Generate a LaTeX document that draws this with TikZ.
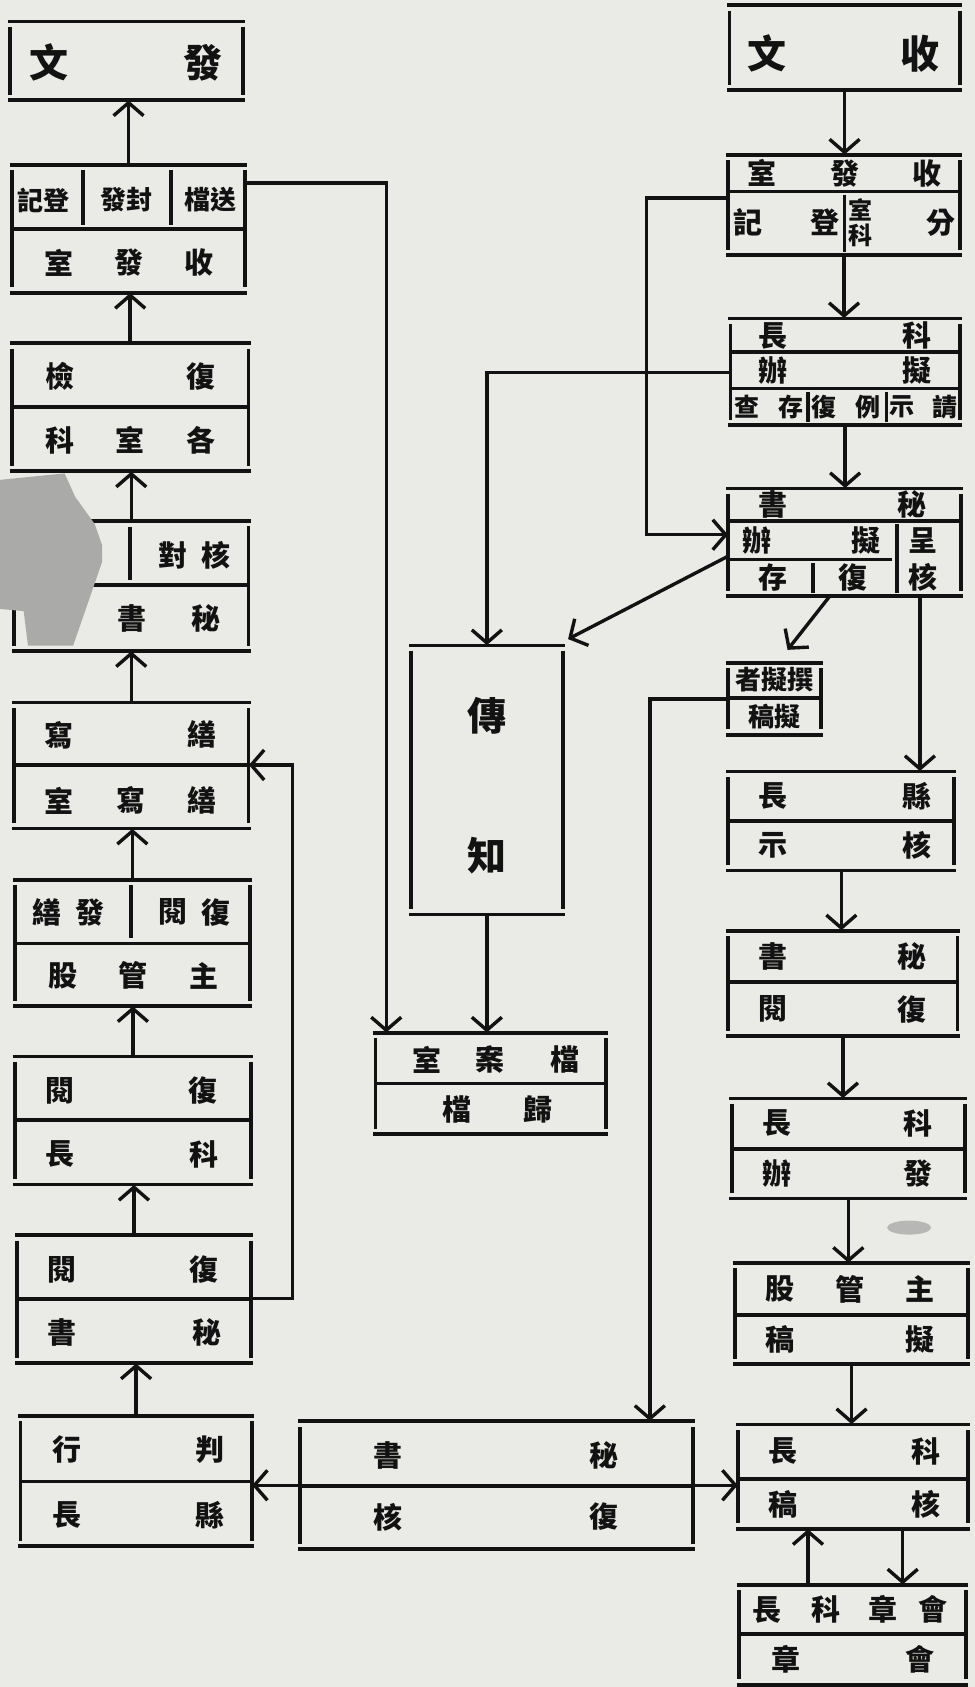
\documentclass[tikz,border=0pt]{standalone}
\usepackage{fontspec}
\newfontfamily\cjk{Noto Sans CJK TC}
\usetikzlibrary{arrows.meta,fit}
\definecolor{paper}{RGB}{234,234,231}
\definecolor{ink}{RGB}{18,18,18}
\definecolor{blobc}{RGB}{170,170,168}
\tikzset{
 ln/.style={draw=ink, line width=1.9pt},
 arr/.style={draw=ink, line width=1.7pt, -{Straight Barb[length=6.5pt,width=15pt]}},
 bx/.style={inner sep=0pt, draw=none},
 txt/.style={inner sep=0pt, text=ink, font=\cjk\bfseries\fontsize{14.5}{14.5}\selectfont},
 pairtxt/.style={txt, font=\cjk\bfseries\fontsize{13}{13}\selectfont},
 rowtxt/.style={txt, font=\cjk\bfseries\fontsize{12.5}{12.5}\selectfont},
 smalltxt/.style={txt, font=\cjk\bfseries\fontsize{12}{12.5}\selectfont, align=center},
 bigtxt/.style={txt, font=\cjk\bfseries\fontsize{19.5}{19.5}\selectfont},
}
\newcommand\mybox[5]{%
 \node[bx, fit={(#2,#3) (#4,#5)}] (#1) {};
 \draw[ln] (#2-2,#3) -- (#4+2,#3);
 \draw[ln] (#2-2,#5) -- (#4+2,#5);
 \draw[ln] (#2,#3+5) -- (#2,#5-5);
 \draw[ln] (#4,#3+5) -- (#4,#5-5);}
\newcommand\tx[4][txt]{\node[#1] (#2) at (#3) {#4};}
\begin{document}
\begin{tikzpicture}[x=0.5381pt, y=-0.5381pt]
\fill[paper] (0,0) rectangle (906,1568);
\useasboundingbox (0,0) rectangle (906,1568);
% ---------- left column ----------
\mybox{fw}{9}{20}{226}{93}
\tx[bigtxt]{fwa}{46,58}{文}\tx[bigtxt]{fwb}{189,58}{發}
\mybox{lsf}{11}{153}{228}{272}
\draw[ln] (11,213) -- (228,213);
\draw[ln] (77,158) -- (77,209); \draw[ln] (159,158) -- (159,209);
\tx[pairtxt]{lsfa}{40,186}{記登}\tx[pairtxt]{lsfb}{118,186}{發封}\tx[pairtxt]{lsfc}{196,186}{檔送}
\tx{lsfd}{55,244}{室}\tx{lsfe}{120,244}{發}\tx{lsff}{185,244}{收}
\mybox{fh}{11}{319}{231}{438}
\draw[ln] (11,378) -- (231,378);
\tx{fha}{56,350}{檢}\tx{fhb}{187,350}{復}
\tx{fhc}{56,409}{科}\tx{fhd}{121,409}{室}\tx{fhe}{187,409}{各}
\mybox{lms}{13}{484}{231}{605}
\draw[ln] (13,544) -- (231,544);
\draw[ln] (121,490) -- (121,539);
\tx{lmsa}{161,516}{對}\tx{lmsb}{201,516}{核}
\tx{lmsc}{123,575}{書}\tx{lmsd}{191,575}{秘}
\mybox{sx}{13}{653}{231}{770}
\draw[ln] (13,711) -- (231,711);
\tx{sxa}{55,683}{寫}\tx{sxb}{188,683}{繕}
\tx{sxc}{55,744}{室}\tx{sxd}{122,744}{寫}\tx{sxe}{188,744}{繕}
\mybox{zg}{14}{818}{232}{935}
\draw[ln] (14,877) -- (232,877);
\draw[ln] (122,823) -- (122,872);
\tx{zga}{44,848}{繕}\tx{zgb}{84,848}{發}\tx{zgc}{161,848}{閱}\tx{zgd}{201,848}{復}
\tx{zge}{59,907}{股}\tx{zgf}{124,907}{管}\tx{zgg}{190,907}{主}
\mybox{kf}{14}{982}{233}{1101}
\draw[ln] (14,1041) -- (233,1041);
\tx{kfa}{56,1014}{閱}\tx{kfb}{189,1014}{復}
\tx{kfc}{56,1073}{長}\tx{kfd}{190,1073}{科}
\mybox{ml}{16}{1148}{233}{1267}
\draw[ln] (16,1207) -- (233,1207);
\tx{mla}{58,1180}{閱}\tx{mlb}{190,1180}{復}
\tx{mlc}{58,1238}{書}\tx{mld}{192,1238}{秘}
\mybox{xp}{19}{1316}{234}{1437}
\draw[ln] (19,1377) -- (234,1377);
\tx{xpa}{62,1347}{行}\tx{xpb}{195,1347}{判}
\tx{xpc}{62,1408}{長}\tx{xpd}{195,1408}{縣}
% ---------- middle ----------
\mybox{cz}{382}{600}{523}{850}
\tx[bigtxt]{cza}{453,665}{傳}\tx[bigtxt]{czb}{453,795}{知}
\mybox{dang}{349}{960}{563}{1054}
\draw[ln] (349,1007) -- (563,1007);
\tx{danga}{397,985}{室}\tx{dangb}{455,985}{案}\tx{dangc}{525,985}{檔}
\tx{dangd}{425,1031}{檔}\tx{dange}{500,1031}{歸}
\mybox{mfh}{279}{1321}{644}{1440}
\draw[ln] (279,1381) -- (644,1381);
\tx{mfha}{361,1353}{書}\tx{mfhb}{561,1353}{秘}
\tx{mfhc}{361,1410}{核}\tx{mfhd}{561,1410}{復}
% ---------- right column ----------
\mybox{sw}{678}{5}{892}{84}
\tx[bigtxt]{swa}{713,50}{文}\tx[bigtxt]{swb}{855,50}{收}
\mybox{rsf}{677}{144}{892}{237}
\draw[ln] (677,178) -- (892,178);
\draw[ln] (785,181) -- (785,234);
\tx{rsfa}{708,161}{室}\tx{rsfb}{785,161}{發}\tx{rsfc}{862,161}{收}
\tx{rsfd}{695,207}{記}\tx{rsfe}{767,207}{登}\tx[smalltxt]{rsff}{800,207}{室\\科}\tx{rsfg}{875,207}{分}
\mybox{kn}{679}{296}{892}{395}
\draw[ln] (679,327) -- (892,327);
\draw[ln] (679,361) -- (892,361);
\draw[ln] (751,364) -- (751,392); \draw[ln] (824,364) -- (824,392);
\tx{kna}{718,312}{長}\tx{knb}{852,312}{科}
\tx{knc}{718,344}{辦}\tx{knd}{852,344}{擬}
\tx[rowtxt]{kne}{694,378}{查}\tx[rowtxt]{knf}{735,378}{存}\tx[rowtxt]{kng}{766,378}{復}
\tx[rowtxt]{knh}{807,378}{例}\tx[rowtxt]{kni}{838,378}{示}\tx[rowtxt]{knj}{878,378}{請}
\mybox{msh}{677}{454}{893}{554}
\draw[ln] (677,484) -- (893,484);
\draw[ln] (834,487) -- (834,551);
\draw[ln] (677,520) -- (829,520);
\draw[ln] (756,523) -- (756,551);
\tx{msha}{718,469}{書}\tx{mshb}{848,469}{秘}
\tx{mshc}{704,502}{辦}\tx{mshd}{805,502}{擬}
\tx{mshe}{718,537}{存}\tx{mshf}{793,537}{復}
\tx{mshg}{858,502}{呈}\tx{mshh}{858,537}{核}
\mybox{zn}{677}{616}{763}{683}
\draw[ln] (677,649) -- (763,649);
\tx[pairtxt]{zna}{720,632}{者擬撰}\tx[pairtxt]{znb}{720,666}{稿擬}
\mybox{xz}{677}{717}{887}{809}
\draw[ln] (677,763) -- (887,763);
\tx{xza}{718,740}{長}\tx{xzb}{852,740}{縣}
\tx{xzc}{718,786}{示}\tx{xzd}{852,786}{核}
\mybox{mr}{677}{865}{890}{963}
\draw[ln] (677,913) -- (890,913);
\tx{mra}{718,889}{書}\tx{mrb}{848,889}{秘}
\tx{mrc}{718,938}{閱}\tx{mrd}{848,938}{復}
\mybox{kb}{680}{1021}{897}{1114}
\draw[ln] (680,1068) -- (897,1068);
\tx{kba}{722,1044}{長}\tx{kbb}{853,1044}{科}
\tx{kbc}{722,1091}{辦}\tx{kbd}{853,1091}{發}
\mybox{zgn}{683}{1174}{900}{1268}
\draw[ln] (683,1222) -- (900,1222);
\tx{zgna}{725,1198}{股}\tx{zgnb}{790,1198}{管}\tx{zgnc}{855,1198}{主}
\tx{zgnd}{725,1245}{稿}\tx{zgne}{855,1245}{擬}
\mybox{kh}{686}{1324}{900}{1421}
\draw[ln] (686,1375) -- (900,1375);
\tx{kha}{728,1349}{長}\tx{khb}{861,1349}{科}
\tx{khc}{728,1398}{稿}\tx{khd}{861,1398}{核}
\mybox{hz}{687}{1473}{898}{1566}
\draw[ln] (687,1519) -- (898,1519);
\tx{hza}{713,1496}{長}\tx{hzb}{768,1496}{科}\tx{hzc}{821,1496}{章}\tx{hzd}{867,1496}{會}
\tx{hze}{731,1542}{章}\tx{hzf}{855,1542}{會}
% ---------- connectors ----------
\draw[arr] (lsf.north) -- (lsf.north |- fw.south);
\draw[arr] (fh.north) -- (fh.north |- lsf.south);
\draw[arr] (lms.north) -- (lms.north |- fh.south);
\draw[arr] (sx.north) -- (sx.north |- lms.south);
\draw[arr] (zg.north) -- (zg.north |- sx.south);
\draw[arr] (kf.north) -- (kf.north |- zg.south);
\draw[arr] (ml.north) -- (ml.north |- kf.south);
\draw[arr] (xp.north) -- (xp.north |- ml.south);
\draw[arr] (ml.east |- 0,1207) -- (272,1207) -- (272,711) -- (sx.east |- 0,711);
\draw[arr] (lsf.east |- 0,170) -| (dang.north -| 359,0);
\draw[arr] (cz.south) -- (cz.south |- dang.north);
\draw[arr] (mfh.west) -- (mfh.west -| xp.east);
\draw[arr] (mfh.east) -- (mfh.east -| kh.west);
\draw[arr] (sw.south) -- (sw.south |- rsf.north);
\draw[arr] (rsf.south) -- (rsf.south |- kn.north);
\draw[arr] (kn.south) -- (kn.south |- msh.north);
\draw[arr] (rsf.west |- 0,184) -- (601,184) -- (601,497) -- (msh.west |- 0,497);
\draw[arr] (kn.west |- 0,346) -| (cz.north);
\coordinate (czt) at (528,594);
\draw[arr] (msh.west |- 0,517) -- (czt);
\coordinate (znt) at (732,604);
\draw[arr] (msh.south -| 771,0) -- (znt);
\draw[arr] (msh.south -| 855,0) -- (xz.north -| 855,0);
\draw[arr] (xz.south) -- (xz.south |- mr.north);
\draw[arr] (mr.south) -- (mr.south |- kb.north);
\draw[arr] (kb.south) -- (kb.south |- zgn.north);
\draw[arr] (zgn.south) -- (zgn.south |- kh.north);
\draw[arr] (zn.west) -| (mfh.north -| 604,0);
\draw[arr] (hz.north -| 751,0) -- (kh.south -| 751,0);
\draw[arr] (kh.south -| 839,0) -- (hz.north -| 839,0);
% ---------- scan marks ----------
\fill[blobc] (0,446) -- (60,440) -- (70,462) -- (88,487) -- (95,507) -- (95,522) -- (68,600) -- (26,600) -- (22,568) -- (0,566) -- cycle;
\fill[blobc!85] (845,1141) ellipse [x radius=11pt, y radius=3.5pt];
\end{tikzpicture}
\end{document}
